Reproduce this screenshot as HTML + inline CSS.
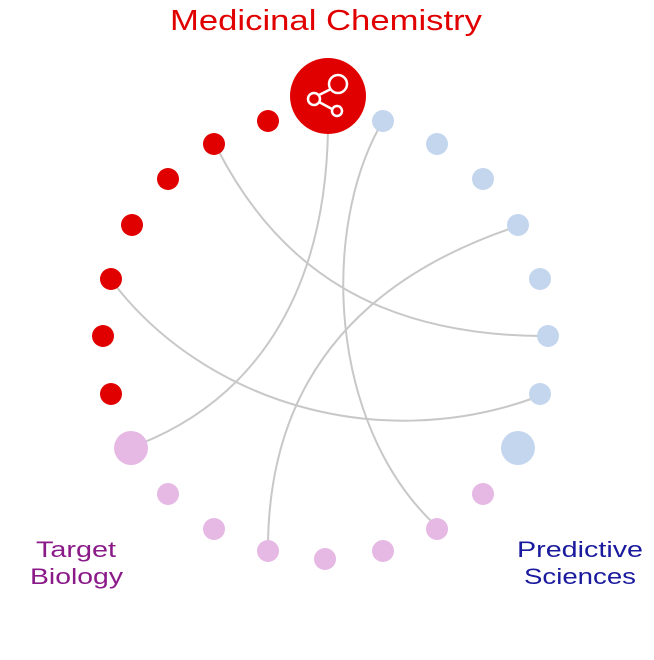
<!DOCTYPE html>
<html><head><meta charset="utf-8"><style>
html,body{margin:0;padding:0;background:#fff;width:654px;height:660px;overflow:hidden}
svg text{font-family:"Liberation Sans",sans-serif}
</style></head><body>
<svg width="654" height="660" viewBox="0 0 654 660" xmlns="http://www.w3.org/2000/svg">
<text x="170" y="30" font-size="29" fill="#e10000" textLength="312" lengthAdjust="spacingAndGlyphs">Medicinal Chemistry</text>
<text x="36" y="557" font-size="22" fill="#8b1a89" textLength="80" lengthAdjust="spacingAndGlyphs">Target</text>
<text x="30" y="584" font-size="22" fill="#8b1a89" textLength="93" lengthAdjust="spacingAndGlyphs">Biology</text>
<text x="517" y="557" font-size="22" fill="#1a1a9e" textLength="126" lengthAdjust="spacingAndGlyphs">Predictive</text>
<text x="524" y="584" font-size="22" fill="#1a1a9e" textLength="112" lengthAdjust="spacingAndGlyphs">Sciences</text>
<g fill="none" stroke="#c8c8c8" stroke-width="2">
<path d="M328,130 C325,300 250,400 140,444"/>
<path d="M380,126 C322,230 328,420 432,522"/>
<path d="M218,150 C280,270 380,335 542,336"/>
<path d="M512,228 C360,280 270,380 268,544"/>
<path d="M115,285 C205,400 375,455 534,398"/>
</g>
<g fill="#e10000">
<circle cx="268" cy="121" r="11"/><circle cx="214" cy="144" r="11"/><circle cx="168" cy="179" r="11"/>
<circle cx="132" cy="225" r="11"/><circle cx="111" cy="279" r="11"/><circle cx="103" cy="336" r="11"/>
<circle cx="111" cy="394" r="11"/>
<circle cx="328" cy="96" r="38"/>
</g>
<g fill="#c3d6ee">
<circle cx="383" cy="121" r="11"/><circle cx="437" cy="144" r="11"/><circle cx="483" cy="179" r="11"/>
<circle cx="518" cy="225" r="11"/><circle cx="540" cy="279" r="11"/><circle cx="548" cy="336" r="11"/>
<circle cx="540" cy="394" r="11"/><circle cx="518" cy="448" r="17"/>
</g>
<g fill="#e6b8e4">
<circle cx="131" cy="448" r="17"/><circle cx="168" cy="494" r="11"/><circle cx="214" cy="529" r="11"/>
<circle cx="268" cy="551" r="11"/><circle cx="325" cy="559" r="11"/><circle cx="383" cy="551" r="11"/>
<circle cx="437" cy="529" r="11"/><circle cx="483" cy="494" r="11"/>
</g>
<g fill="none" stroke="#fff" stroke-width="2.5">
<circle cx="338" cy="84" r="9"/>
<circle cx="314" cy="99" r="6"/>
<circle cx="337" cy="111" r="5"/>
<line x1="319" y1="95" x2="331" y2="89"/>
<line x1="319" y1="102" x2="332" y2="109"/>
</g>
</svg>
</body></html>
